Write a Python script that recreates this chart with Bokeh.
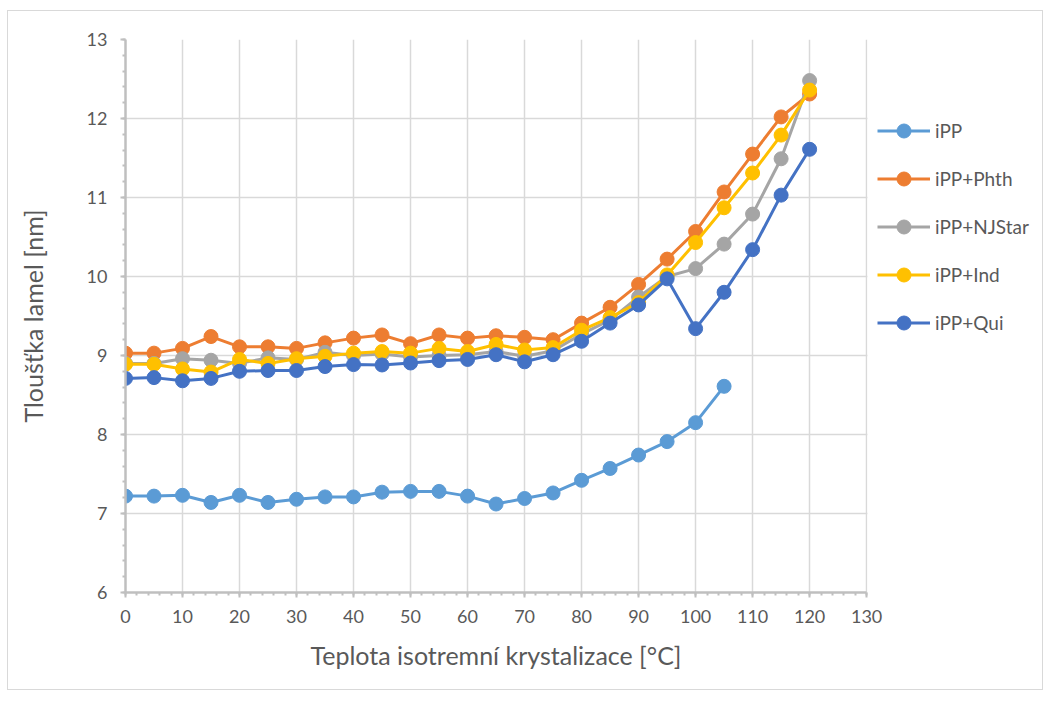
from bokeh.plotting import figure
from bokeh.models import (Range1d, SingleIntervalTicker, Legend, LegendItem,
                          InlineStyleSheet, BoxAnnotation, Title)
from bokeh.embed import file_html
from bokeh.resources import INLINE

# Isothermal crystallization temperature [°C]
temps = [0, 5, 10, 15, 20, 25, 30, 35, 40, 45, 50, 55, 60, 65, 70, 75,
         80, 85, 90, 95, 100, 105, 110, 115, 120]

# Lamellar thickness [nm] per sample
ipp = [7.22, 7.22, 7.23, 7.14, 7.23, 7.14, 7.18, 7.21, 7.21, 7.27, 7.28, 7.28,
       7.22, 7.12, 7.19, 7.26, 7.42, 7.57, 7.74, 7.91, 8.15, 8.61]
phth = [9.03, 9.03, 9.09, 9.24, 9.11, 9.11, 9.09, 9.16, 9.22, 9.26, 9.15, 9.26,
        9.22, 9.25, 9.23, 9.20, 9.41, 9.61, 9.90, 10.22, 10.57, 11.07, 11.55, 12.02, 12.31]
njstar = [8.90, 8.90, 8.96, 8.94, 8.90, 8.97, 8.95, 9.04, 9.00, 9.02, 8.98, 9.00,
          9.01, 9.05, 8.99, 9.06, 9.27, 9.45, 9.74, 10.00, 10.10, 10.41, 10.79, 11.49, 12.48]
ind = [8.89, 8.89, 8.83, 8.79, 8.95, 8.90, 8.96, 8.99, 9.03, 9.05, 9.03, 9.09,
       9.05, 9.14, 9.07, 9.10, 9.32, 9.48, 9.67, 10.02, 10.43, 10.87, 11.31, 11.79, 12.36]
qui = [8.71, 8.72, 8.68, 8.71, 8.80, 8.81, 8.81, 8.86, 8.885, 8.88, 8.905, 8.935,
       8.95, 9.01, 8.92, 9.01, 9.18, 9.41, 9.64, 9.97, 9.34, 9.80, 10.34, 11.03, 11.61]

series_names = ["iPP", "iPP+Phth", "iPP+NJStar", "iPP+Ind", "iPP+Qui"]
series_values = [ipp, phth, njstar, ind, qui]
series_colors = ["#5B9BD5", "#ED7D31", "#A5A5A5", "#FFC000", "#4472C4"]

X_MIN, X_MAX = 0, 130
Y_MIN, Y_MAX = 6, 13

FONT = "Lato"
TEXT_COLOR = "#595959"
GRID_COLOR = "#D9D9D9"
AXIS_COLOR = "#BFBFBF"

# The frame is widened past 130 so the legend can live inside it on the right.
p = figure(width=1036, height=680, output_backend="svg", toolbar_location=None,
           x_range=Range1d(X_MIN, 161.2), y_range=Range1d(Y_MIN, Y_MAX),
           min_border_left=117, min_border_right=0,
           min_border_top=28, min_border_bottom=99,
           margin=(10, 0, 0, 7),
           stylesheets=[InlineStyleSheet(css=":host { border: 1px solid #D9D9D9; }")])
p.outline_line_color = None
p.background_fill_color = "white"
p.border_fill_color = "white"

p.xaxis.ticker = SingleIntervalTicker(interval=10, num_minor_ticks=5)
p.yaxis.ticker = SingleIntervalTicker(interval=1, num_minor_ticks=5)
p.xaxis.bounds = (X_MIN, X_MAX)

for ax in (p.xaxis, p.yaxis):
    ax.axis_line_color = AXIS_COLOR
    ax.axis_line_width = 2.5
    ax.major_tick_line_color = AXIS_COLOR
    ax.major_tick_line_width = 2
    ax.minor_tick_line_color = AXIS_COLOR
    ax.minor_tick_line_width = 2
    ax.major_tick_out = 5
    ax.major_tick_in = 0
    ax.minor_tick_out = 3
    ax.minor_tick_in = 0
    ax.major_label_text_font = FONT
    ax.major_label_text_font_size = "18px"
    ax.major_label_text_color = TEXT_COLOR

p.yaxis.axis_label = "Tloušťka lamel [nm]"
p.yaxis.axis_label_text_font = FONT
p.yaxis.axis_label_text_font_size = "25px"
p.yaxis.axis_label_text_font_style = "normal"
p.yaxis.axis_label_text_color = TEXT_COLOR
p.xaxis.major_label_standoff = 12
p.yaxis.major_label_standoff = 13
p.yaxis.axis_label_standoff = 36

# x-axis title, centred under the 0–130 span rather than the whole frame
x_title = Title(text="Teplota isotremní krystalizace [°C]", align="left",
                offset=185, standoff=24, text_font=FONT, text_font_size="25px",
                text_font_style="normal", text_color=TEXT_COLOR)
p.add_layout(x_title, "below")

for g in (p.xgrid, p.ygrid):
    g.grid_line_color = GRID_COLOR
    g.grid_line_width = 1.5
p.xgrid.bounds = (X_MIN, X_MAX)

# white mask so horizontal grid lines stop at 130
p.add_layout(BoxAnnotation(left=X_MAX + 0.14, fill_color="white", fill_alpha=1,
                           line_alpha=0, level="underlay"))

items = []
for name, vals, col in zip(series_names, series_values, series_colors):
    xs = temps[:len(vals)]
    ln = p.line(xs, vals, line_color=col, line_width=3)
    sc = p.scatter(xs, vals, size=14, fill_color=col, line_color=col)
    items.append(LegendItem(label=name, renderers=[ln, sc]))

# location is the legend's bottom-left corner, in px from the frame's bottom-left
legend = Legend(items=items, location=(752, 252),
                glyph_width=53, glyph_height=35, label_height=20,
                spacing=13, padding=0, margin=0, label_standoff=5,
                border_line_color=None, background_fill_alpha=0,
                label_text_font=FONT, label_text_font_size="19px",
                label_text_color=TEXT_COLOR)
p.add_layout(legend, "center")

open("out.html", "w").write(file_html(p, INLINE))
